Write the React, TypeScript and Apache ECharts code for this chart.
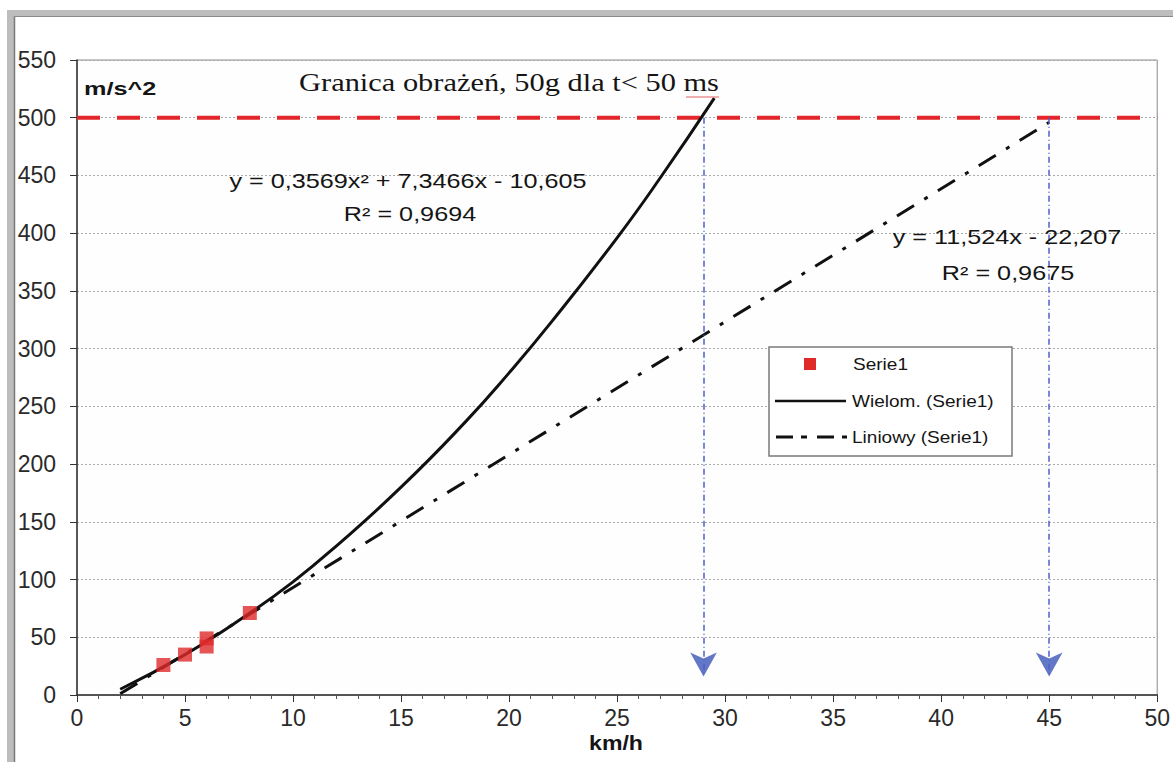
import React, { useEffect, useRef } from "react";
import * as echarts from "echarts";

// Measured points (Serie1)
const measuredX = [4, 5, 6, 6, 8];
const measuredY = [26, 35, 42, 49, 71];
// Polynomial trend line
const polyX = [2, 5, 8, 10, 12, 15, 18, 20, 22, 25, 27, 29.5];
const polyY = [5, 35, 71, 98, 129, 180, 237, 279, 324, 396, 448, 517];
// Linear trend line
const linX = [2, 45];
const linY = [1, 496];
// Injury limit
const limitY = 500;
const limitX = [0, 50];
// Crossing speeds (arrows)
const arrowX = [29, 45];
const arrowY = 16;

const SANS = "'Liberation Sans', Arial, sans-serif";
const SERIF = "'Liberation Serif', 'Times New Roman', serif";

export default function App() {
  const ref = useRef<HTMLDivElement>(null);
  useEffect(() => {
    document.body.style.margin = "0";
    const chart = echarts.init(ref.current!, null, { renderer: "svg" });
    const txt = (
      text: string,
      x: number,
      y: number,
      opts: { size?: number; font?: string; weight?: string; align?: string; sx?: number; color?: string } = {}
    ) => ({
      type: "text",
      x,
      y,
      scaleX: opts.sx ?? 1,
      z: 100,
      style: {
        text,
        fill: opts.color ?? "#151515",
        fontSize: opts.size ?? 18,
        fontFamily: opts.font ?? SANS,
        fontWeight: opts.weight ?? "normal",
        textAlign: opts.align ?? "center",
        textVerticalAlign: "middle",
        align: opts.align ?? "center",
        verticalAlign: "middle",
      },
    });

    chart.setOption({
      animation: false,
      backgroundColor: "#ffffff",
      grid: {
        left: 77,
        top: 60,
        right: 13,
        bottom: 67,
        show: true,
        borderColor: "#8a8a8a",
        borderWidth: 1,
        backgroundColor: "#fefefe",
      },
      xAxis: {
        type: "value",
        min: 0,
        max: 50,
        interval: 5,
        axisLine: { show: true, onZero: false, lineStyle: { color: "#333", width: 1.5 } },
        axisTick: { show: true, length: 7, lineStyle: { color: "#333" } },
        minorTick: { show: true, splitNumber: 5, length: 4, lineStyle: { color: "#555" } },
        axisLabel: { fontSize: 23, color: "#2a2a2a", fontFamily: SANS, margin: 11 },
        splitLine: { show: false },
      },
      yAxis: {
        type: "value",
        min: 0,
        max: 550,
        interval: 50,
        axisLine: { show: true, onZero: false, lineStyle: { color: "#333", width: 1.5 } },
        axisTick: { show: true, length: 7, lineStyle: { color: "#333" } },
        axisLabel: { fontSize: 23, color: "#2a2a2a", fontFamily: SANS, margin: 21 },
        splitLine: { show: true, lineStyle: { color: "#a8a8a8", type: [2, 2], width: 1 } },
      },
      series: [
        {
          name: "Granica",
          type: "line",
          data: limitX.map((x) => [x, limitY]),
          symbol: "none",
          lineStyle: { color: "#e3262b", width: 4, type: [23, 17] },
          z: 3,
        },
        {
          name: "Liniowy (Serie1)",
          type: "line",
          data: linX.map((x, i) => [x, linY[i]]),
          symbol: "none",
          lineStyle: { color: "#111", width: 3, type: [20, 12, 4, 12] },
          z: 4,
        },
        {
          name: "Wielom. (Serie1)",
          type: "line",
          smooth: true,
          data: polyX.map((x, i) => [x, polyY[i]]),
          symbol: "none",
          lineStyle: { color: "#111", width: 3 },
          z: 5,
        },
        {
          name: "Serie1",
          type: "scatter",
          symbol: "rect",
          symbolSize: 14,
          data: measuredX.map((x, i) => [x, measuredY[i]]),
          itemStyle: { color: "#e02a2a" },
          z: 6,
        },
        {
          name: "arrows",
          type: "scatter",
          symbol: "arrow",
          symbolRotate: 180,
          symbolSize: [20, 24],
          data: arrowX.map((x) => [x, arrowY]),
          itemStyle: { color: "#3b55b8" },
          markLine: {
            silent: true,
            symbol: ["none", "none"],
            label: { show: false },
            lineStyle: { color: "#4f5fcc", width: 1.5, type: [6, 3, 1, 3] },
            data: arrowX.map((x) => [
              { coord: [x, limitY] },
              { coord: [x, arrowY] },
            ]),
          },
          z: 2,
        },
      ],
      graphic: [
        // outer frame
        { type: "rect", shape: { x: 7, y: 10, width: 1166, height: 6 }, style: { fill: "#bdbdbd" }, z: 50 },
        { type: "rect", shape: { x: 7, y: 10, width: 7, height: 752 }, style: { fill: "#bdbdbd" }, z: 50 },
        { type: "line", shape: { x1: 14.5, y1: 16, x2: 14.5, y2: 762 }, style: { stroke: "#7a7a7a", lineWidth: 1.5 }, z: 51 },
        { type: "line", shape: { x1: 14, y1: 16.5, x2: 1173, y2: 16.5 }, style: { stroke: "#8a8a8a", lineWidth: 1 }, z: 51 },
        // titles
        txt("Granica obrażeń, 50g dla t< 50 ms", 509, 82, { size: 26, font: SERIF, sx: 1.17 }),
        { type: "line", shape: { x1: 686, y1: 97, x2: 719, y2: 97 }, style: { stroke: "#e06060", lineWidth: 1 }, z: 100 },
        txt("m/s^2", 84, 89, { size: 19, weight: "bold", align: "left", sx: 1.33 }),
        txt("km/h", 616, 743, { size: 21, weight: "bold", sx: 1.1 }),
        // equations
        txt("y = 0,3569x² + 7,3466x - 10,605", 408, 181, { size: 20, sx: 1.26 }),
        txt("R² = 0,9694", 410, 214, { size: 20, sx: 1.26 }),
        txt("y = 11,524x - 22,207", 1007, 237, { size: 20, sx: 1.26 }),
        txt("R² = 0,9675", 1008, 273, { size: 20, sx: 1.26 }),
        // legend
        { type: "rect", shape: { x: 769, y: 347, width: 243, height: 109 }, style: { fill: "#ffffff", stroke: "#7a7a7a", lineWidth: 1.5 }, z: 90 },
        { type: "rect", shape: { x: 804, y: 358, width: 12, height: 12 }, style: { fill: "#e02a2a" }, z: 100 },
        txt("Serie1", 853, 364, { size: 17, align: "left", sx: 1.12 }),
        { type: "line", shape: { x1: 775, y1: 401, x2: 846, y2: 401 }, style: { stroke: "#111", lineWidth: 2.5 }, z: 100 },
        txt("Wielom. (Serie1)", 852, 401, { size: 17, align: "left", sx: 1.12 }),
        { type: "line", shape: { x1: 776, y1: 437, x2: 847, y2: 437 }, style: { stroke: "#111", lineWidth: 3, lineDash: [17, 8, 6, 10] }, z: 100 },
        txt("Liniowy (Serie1)", 852, 437, { size: 17, align: "left", sx: 1.12 }),
      ],
    });
    return () => chart.dispose();
  }, []);
  return <div ref={ref} style={{ width: 1173, height: 762 }} />;
}
